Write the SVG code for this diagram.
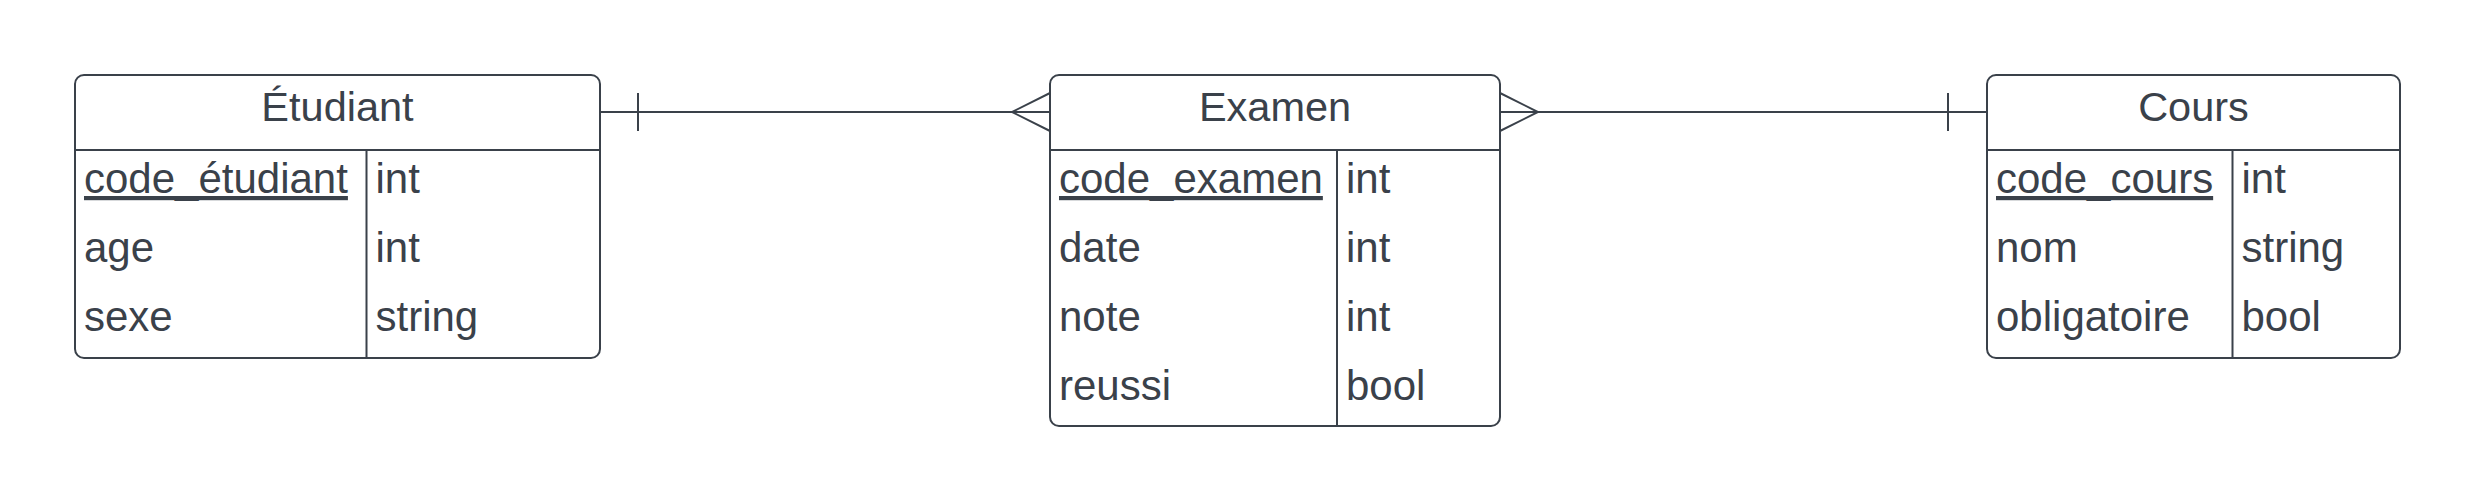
<svg xmlns="http://www.w3.org/2000/svg" width="2475" height="503" viewBox="0 0 2475 503">
  <style>
    .box { fill: #ffffff; stroke: #3a414a; stroke-width: 2; }
    .div { stroke: #3a414a; stroke-width: 2; fill: none; }
    .conn { stroke: #3a414a; stroke-width: 2; fill: none; }
    text { font-family: "Liberation Sans", Arial, sans-serif; font-size: 42px; fill: #3a414a; }
    .title { text-anchor: middle; font-size: 41.5px; }
    .pk { text-decoration: underline; }
  </style>
  <rect width="2475" height="503" fill="#ffffff"/>
  <g id="connectors">
    <path class="conn" d="M600 112 H1050"/>
    <path class="conn" d="M638 93 V131"/>
    <path class="conn" d="M1050 93 L1012 112 L1050 131"/>
    <path class="conn" d="M1500 112 H1987"/>
    <path class="conn" d="M1500 93 L1538 112 L1500 131"/>
    <path class="conn" d="M1948 93 V131"/>
  </g>
  <g id="etudiant">
    <rect class="box" x="75" y="75" width="525" height="283" rx="9"/>
    <path class="div" d="M75 150 H600 M366.5 150 V358"/>
    <text class="title" x="337.5" y="121">Étudiant</text>
    <text class="pk" x="84" y="193">code_étudiant</text>
    <text x="375.5" y="193">int</text>
    <text x="84" y="262">age</text>
    <text x="375.5" y="262">int</text>
    <text x="84" y="331">sexe</text>
    <text x="375.5" y="331">string</text>
  </g>
  <g id="examen">
    <rect class="box" x="1050" y="75" width="450" height="351" rx="9"/>
    <path class="div" d="M1050 150 H1500 M1337 150 V426"/>
    <text class="title" x="1275" y="121">Examen</text>
    <text class="pk" x="1059" y="193">code_examen</text>
    <text x="1346" y="193">int</text>
    <text x="1059" y="262">date</text>
    <text x="1346" y="262">int</text>
    <text x="1059" y="331">note</text>
    <text x="1346" y="331">int</text>
    <text x="1059" y="400">reussi</text>
    <text x="1346" y="400">bool</text>
  </g>
  <g id="cours">
    <rect class="box" x="1987" y="75" width="413" height="283" rx="9"/>
    <path class="div" d="M1987 150 H2400 M2232.5 150 V358"/>
    <text class="title" x="2193.5" y="121">Cours</text>
    <text class="pk" x="1996" y="193">code_cours</text>
    <text x="2241.5" y="193">int</text>
    <text x="1996" y="262">nom</text>
    <text x="2241.5" y="262">string</text>
    <text x="1996" y="331">obligatoire</text>
    <text x="2241.5" y="331">bool</text>
  </g>
</svg>
